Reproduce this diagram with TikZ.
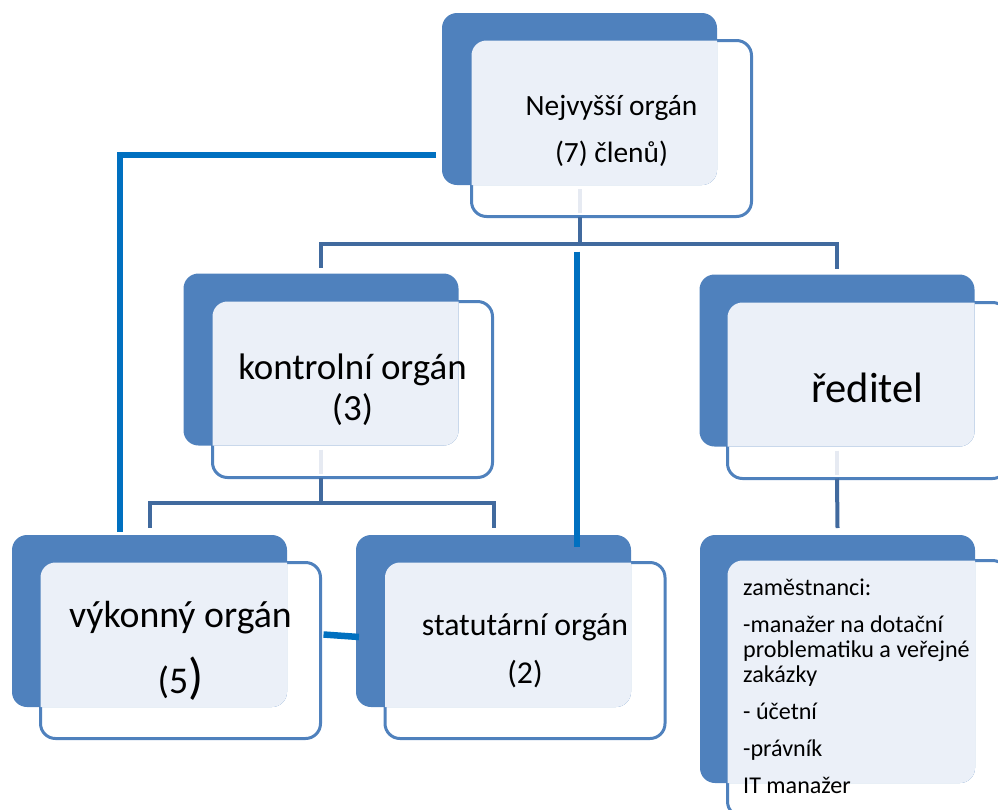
\documentclass[tikz,border=0pt]{standalone}
\usepackage{fontspec}
\setmainfont{Carlito}
\usetikzlibrary{backgrounds,calc}

\definecolor{backblue}{RGB}{79,129,189}
\definecolor{lightfill}{RGB}{235,240,248}
\definecolor{treeblue}{RGB}{65,106,158}
\definecolor{linkblue}{RGB}{0,112,192}
\definecolor{stubgray}{RGB}{230,234,242}

\begin{document}
\begin{tikzpicture}[x=1pt,y=-1pt,
    back/.style={fill=backblue, rounded corners=15pt, minimum width=275pt,
      minimum height=172pt, inner sep=0pt, outer sep=0pt},
    front/.style={draw=backblue, line width=3pt, fill=white, rounded corners=15pt,
      minimum width=280pt, minimum height=176pt, inner sep=0pt, outer sep=0pt},
    tree/.style={draw=treeblue, line width=4pt},
    stub/.style={draw=stubgray, line width=4pt, shorten <=4pt, shorten >=4pt},
    link/.style={draw=linkblue, line width=6.5pt},
    label/.style={anchor=base, align=center, inner sep=0pt}]
    \useasboundingbox (0,0) rectangle (998,809);

    % back cards
    \node[back] (top) at (579.5,99) {};
    \node[back] (kon) at (321,359.5) {};
    \node[back] (red) at (837,360.5) {};
    \node[back] (vyk) at (149.5,621) {};
    \node[back] (sta) at (493.5,621) {};
    \node[back, minimum height=248pt] (zam) at (837.5,659) {};

    % front cards
    \begin{scope}[on background layer]
      \node[front, xshift=32pt, yshift=-29.5pt] (top-f) at (top) {};
      \node[front, xshift=31.5pt, yshift=-30pt] (kon-f) at (kon) {};
      \node[front, xshift=30.5pt, yshift=-30pt] (red-f) at (red) {};
      \node[front, xshift=31pt, yshift=-29.5pt] (vyk-f) at (vyk) {};
      \node[front, xshift=31.5pt, yshift=-29.5pt] (sta-f) at (sta) {};
      \node[front, minimum height=256pt, xshift=30pt, yshift=-29.5pt] (zam-f) at (zam) {};
    \end{scope}

    \foreach \b in {top,kon,red,vyk,sta,zam} {
      \begin{scope}
        \clip[rounded corners=15pt] (\b.south west) rectangle (\b.north east);
        \fill[lightfill, rounded corners=15pt] (\b-f.south west) rectangle (\b-f.north east);
      \end{scope}
    }

    % texts (base = last line)
    \node[label, font=\fontsize{29.4}{47}\selectfont] (top-t) at (611.5,162)
      {Nejvyšší orgán\\(7) členů)};
    \node[label, font=\fontsize{36.9}{41}\selectfont] (kon-t) at (352.5,420)
      {kontrolní orgán\\(3)};
    \node[label, font=\fontsize{42.5}{48}\selectfont] (red-t) at (867.5,402) {ředitel};
    \node[label, font=\fontsize{37.8}{66}\selectfont] (vyk-t) at (180.5,693)
      {výkonný orgán\\(5{\fontsize{50}{50}\selectfont)}};
    \node[label, font=\fontsize{31.8}{48}\selectfont] (sta-t) at (525,683)
      {statutární orgán\\(2)};
    \node[anchor=base west, align=left, inner sep=0pt,
      font=\fontsize{24.1}{25}\selectfont] (zam-t) at (743,793)
      {zaměstnanci:\\[12pt]-manažer na dotační\\problematiku a veřejné\\zakázky\\[12pt]- účetní\\[12pt]-právník\\[12pt]IT manažer};

    % tree connectors
    \draw[stub] (top.south) -- (top.south |- top-f.south);
    \draw[stub] (kon.south) -- (kon.south |- kon-f.south);
    \draw[stub] (red.south) -- (red.south |- red-f.south);
    \draw[tree] (top.south |- top-f.south) -- ++(0,27) coordinate (bar1) -| ([yshift=6pt]kon.north);
    \draw[tree] (bar1) -| ([yshift=6pt]red.north);
    \draw[tree] (kon.south |- kon-f.south) -- ++(0,25) coordinate (bar2) -| ([yshift=7pt]vyk.north);
    \draw[tree] (bar2) -| ([yshift=7pt]sta.north);
    \draw[tree] (red.south |- red-f.south) -- ([yshift=7pt]zam.north);

    % extra links
    \draw[link] ([xshift=-6pt,yshift=30pt]top.south west) -| ([xshift=-29.5pt,yshift=3pt]vyk.north);
    \draw[link] ([xshift=-2.5pt,yshift=-8pt]bar1) -- ([xshift=83.5pt,yshift=-12pt]sta.north);
    \draw[link] ([xshift=3pt,yshift=16pt]vyk-f.east) -- ([xshift=3pt,yshift=-16pt]sta.west);
  \end{tikzpicture}
\end{document}
